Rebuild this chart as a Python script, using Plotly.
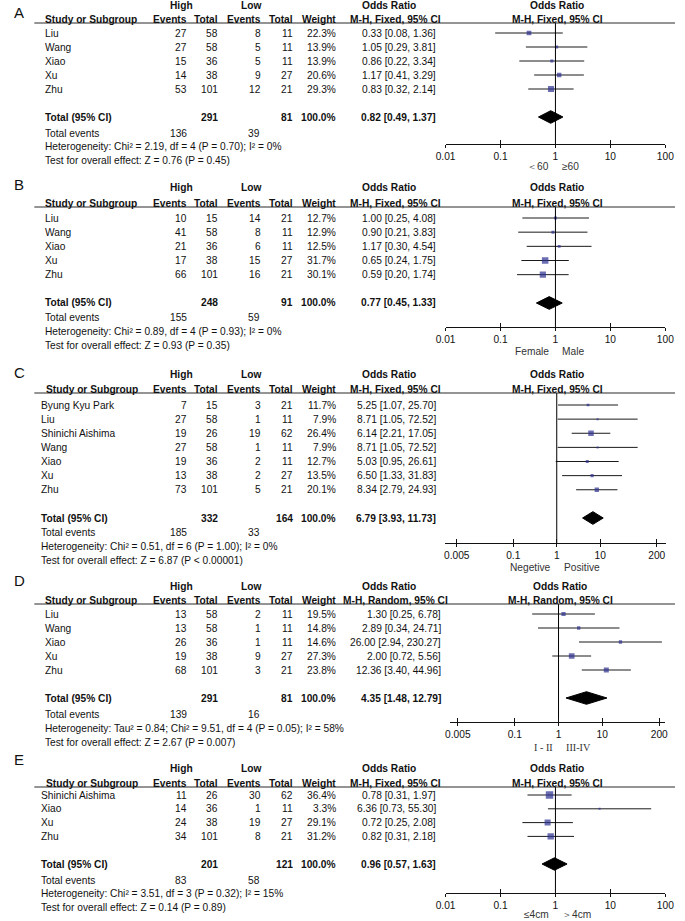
import math
import plotly.graph_objects as go

W, H = 685, 921
FONT = "Liberation Sans, Arial, Helvetica, sans-serif"
SERIF = "Liberation Serif, Times New Roman, serif"
FS = 10.2
TXT = "#111111"
BLUE = "#2e3092"

# ---------------- Panel A ----------------
a_study = ["Liu", "Wang", "Xiao", "Xu", "Zhu"]
a_high_events = [27, 27, 15, 14, 53]
a_high_total = [58, 58, 36, 38, 101]
a_low_events = [8, 5, 5, 9, 12]
a_low_total = [11, 11, 11, 27, 21]
a_weight = [22.3, 13.9, 13.9, 20.6, 29.3]
a_or = [0.33, 1.05, 0.86, 1.17, 0.83]
a_ci_low = [0.08, 0.29, 0.22, 0.41, 0.32]
a_ci_high = [1.36, 3.81, 3.34, 3.29, 2.14]
a_totals = [291, 81]
a_events = [136, 39]
a_pooled = [0.82, 0.49, 1.37]
a_het = "Heterogeneity: Chi² = 2.19, df = 4 (P = 0.70); I² = 0%"
a_test = "Test for overall effect: Z = 0.76 (P = 0.45)"
a_method = "M-H, Fixed, 95% CI"
a_dir = ["＜60", "≥60"]
a_ticks = [0.01, 0.1, 1, 10, 100]
a_tick_labels = ["0.01", "0.1", "1", "10", "100"]

# ---------------- Panel B ----------------
b_study = ["Liu", "Wang", "Xiao", "Xu", "Zhu"]
b_high_events = [10, 41, 21, 17, 66]
b_high_total = [15, 58, 36, 38, 101]
b_low_events = [14, 8, 6, 15, 16]
b_low_total = [21, 11, 11, 27, 21]
b_weight = [12.7, 12.9, 12.5, 31.7, 30.1]
b_or = [1.00, 0.90, 1.17, 0.65, 0.59]
b_ci_low = [0.25, 0.21, 0.30, 0.24, 0.20]
b_ci_high = [4.08, 3.83, 4.54, 1.75, 1.74]
b_totals = [248, 91]
b_events = [155, 59]
b_pooled = [0.77, 0.45, 1.33]
b_het = "Heterogeneity: Chi² = 0.89, df = 4 (P = 0.93); I² = 0%"
b_test = "Test for overall effect: Z = 0.93 (P = 0.35)"
b_method = "M-H, Fixed, 95% CI"
b_dir = ["Female", "Male"]
b_ticks = [0.01, 0.1, 1, 10, 100]
b_tick_labels = ["0.01", "0.1", "1", "10", "100"]

# ---------------- Panel C ----------------
c_study = ["Byung Kyu Park", "Liu", "Shinichi Aishima", "Wang", "Xiao", "Xu", "Zhu"]
c_high_events = [7, 27, 19, 27, 19, 13, 73]
c_high_total = [15, 58, 26, 58, 36, 38, 101]
c_low_events = [3, 1, 19, 1, 2, 2, 5]
c_low_total = [21, 11, 62, 11, 11, 27, 21]
c_weight = [11.7, 7.9, 26.4, 7.9, 12.7, 13.5, 20.1]
c_or = [5.25, 8.71, 6.14, 8.71, 5.03, 6.50, 8.34]
c_ci_low = [1.07, 1.05, 2.21, 1.05, 0.95, 1.33, 2.79]
c_ci_high = [25.70, 72.52, 17.05, 72.52, 26.61, 31.83, 24.93]
c_totals = [332, 164]
c_events = [185, 33]
c_pooled = [6.79, 3.93, 11.73]
c_het = "Heterogeneity: Chi² = 0.51, df = 6 (P = 1.00); I² = 0%"
c_test = "Test for overall effect: Z = 6.87 (P &lt; 0.00001)"
c_method = "M-H, Fixed, 95% CI"
c_dir = ["Negetive", "Positive"]
c_ticks = [0.005, 0.1, 1, 10, 200]
c_tick_labels = ["0.005", "0.1", "1", "10", "200"]

# ---------------- Panel D ----------------
d_study = ["Liu", "Wang", "Xiao", "Xu", "Zhu"]
d_high_events = [13, 13, 26, 19, 68]
d_high_total = [58, 58, 36, 38, 101]
d_low_events = [2, 1, 1, 9, 3]
d_low_total = [11, 11, 11, 27, 21]
d_weight = [19.5, 14.8, 14.6, 27.3, 23.8]
d_or = [1.30, 2.89, 26.00, 2.00, 12.36]
d_ci_low = [0.25, 0.34, 2.94, 0.72, 3.40]
d_ci_high = [6.78, 24.71, 230.27, 5.56, 44.96]
d_totals = [291, 81]
d_events = [139, 16]
d_pooled = [4.35, 1.48, 12.79]
d_het = "Heterogeneity: Tau² = 0.84; Chi² = 9.51, df = 4 (P = 0.05); I² = 58%"
d_test = "Test for overall effect: Z = 2.67 (P = 0.007)"
d_method = "M-H, Random, 95% CI"
d_dir = ["I - II", "III-IV"]
d_ticks = [0.005, 0.1, 1, 10, 200]
d_tick_labels = ["0.005", "0.1", "1", "10", "200"]

# ---------------- Panel E ----------------
e_study = ["Shinichi Aishima", "Xiao", "Xu", "Zhu"]
e_high_events = [11, 14, 24, 34]
e_high_total = [26, 36, 38, 101]
e_low_events = [30, 1, 19, 8]
e_low_total = [62, 11, 27, 21]
e_weight = [36.4, 3.3, 29.1, 31.2]
e_or = [0.78, 6.36, 0.72, 0.82]
e_ci_low = [0.31, 0.73, 0.25, 0.31]
e_ci_high = [1.97, 55.30, 2.08, 2.18]
e_totals = [201, 121]
e_events = [83, 58]
e_pooled = [0.96, 0.57, 1.63]
e_het = "Heterogeneity: Chi² = 3.51, df = 3 (P = 0.32); I² = 15%"
e_test = "Test for overall effect: Z = 0.14 (P = 0.89)"
e_method = "M-H, Fixed, 95% CI"
e_dir = ["≤4cm", "＞4cm"]
e_ticks = [0.01, 0.1, 1, 10, 100]
e_tick_labels = ["0.01", "0.1", "1", "10", "100"]

# ---------------- layout (pixel positions) ----------------
panels = [
    dict(letter="A", study=a_study, he=a_high_events, ht=a_high_total, le=a_low_events, lt=a_low_total,
         w=a_weight, orr=a_or, lo=a_ci_low, hi=a_ci_high, totals=a_totals, events=a_events, pooled=a_pooled,
         het=a_het, test=a_test, method=a_method, dirs=a_dir, ticks=a_ticks, ticklabels=a_tick_labels,
         L=dict(letter_y=12, high_y=5, header_y=19, line_y=23, first_y=33, total_y=117, tev_y=133,
                het_y=147, test_y=161, axis_y=144, dir_y=167, x0=448, x1=674, rng=[-2, 2],
                name_x=35, hdr_x=35, ci_r=439, rc=563, dfont=FONT)),
    dict(letter="B", study=b_study, he=b_high_events, ht=b_high_total, le=b_low_events, lt=b_low_total,
         w=b_weight, orr=b_or, lo=b_ci_low, hi=b_ci_high, totals=b_totals, events=b_events, pooled=b_pooled,
         het=b_het, test=b_test, method=b_method, dirs=b_dir, ticks=b_ticks, ticklabels=b_tick_labels,
         L=dict(letter_y=185, high_y=188, header_y=203, line_y=207, first_y=218, total_y=303, tev_y=318,
                het_y=332, test_y=346, axis_y=327, dir_y=352, x0=448, x1=674, rng=[-2, 2],
                name_x=35, hdr_x=35, ci_r=439, rc=563, dfont=FONT)),
    dict(letter="C", study=c_study, he=c_high_events, ht=c_high_total, le=c_low_events, lt=c_low_total,
         w=c_weight, orr=c_or, lo=c_ci_low, hi=c_ci_high, totals=c_totals, events=c_events, pooled=c_pooled,
         het=c_het, test=c_test, method=c_method, dirs=c_dir, ticks=c_ticks, ticklabels=c_tick_labels,
         L=dict(letter_y=373, high_y=375, header_y=390, line_y=393, first_y=405, total_y=518, tev_y=532,
                het_y=546, test_y=560, axis_y=543, dir_y=567, x0=447, x1=675, rng=[-2.58, 2.52],
                name_x=31, hdr_x=36, ci_r=439, rc=563, dfont=FONT)),
    dict(letter="D", study=d_study, he=d_high_events, ht=d_high_total, le=d_low_events, lt=d_low_total,
         w=d_weight, orr=d_or, lo=d_ci_low, hi=d_ci_high, totals=d_totals, events=d_events, pooled=d_pooled,
         het=d_het, test=d_test, method=d_method, dirs=d_dir, ticks=d_ticks, ticklabels=d_tick_labels,
         L=dict(letter_y=580, high_y=586, header_y=600, line_y=604, first_y=614, total_y=698, tev_y=714,
                het_y=728, test_y=742, axis_y=722, dir_y=747, x0=453, x1=674, rng=[-2.47, 2.44],
                name_x=35, hdr_x=35, ci_r=444, rc=566, dfont=SERIF)),
    dict(letter="E", study=e_study, he=e_high_events, ht=e_high_total, le=e_low_events, lt=e_low_total,
         w=e_weight, orr=e_or, lo=e_ci_low, hi=e_ci_high, totals=e_totals, events=e_events, pooled=e_pooled,
         het=e_het, test=e_test, method=e_method, dirs=e_dir, ticks=e_ticks, ticklabels=e_tick_labels,
         L=dict(letter_y=759, high_y=768, header_y=783, line_y=787, first_y=795, total_y=864, tev_y=880,
                het_y=893, test_y=907, axis_y=893, dir_y=914, x0=448, x1=674, rng=[-2, 2],
                name_x=31, hdr_x=36, ci_r=439, rc=563, dfont=FONT)),
]

COL_HE, COL_HT, COL_LE, COL_LT, COL_W = 183, 215, 259, 292, 336
HIGH_C, LOW_C, OR_C, MH_C = 176, 248, 390, 397

fig = go.Figure()
ann = []
shapes = []


def px(x):
    return x / W


def py(y):
    return 1 - y / H


def text(x, y, s, anchor="left", bold=False, size=FS, family=FONT, color=TXT):
    ann.append(dict(x=px(x), y=py(y), xref="paper", yref="paper",
                    text=("<b>%s</b>" % s) if bold else s, showarrow=False,
                    xanchor=anchor, yanchor="middle", borderpad=0,
                    font=dict(family=family, size=size, color=color)))


NP = len(panels)
for i, p in enumerate(panels, start=1):
    L = p["L"]
    n = len(p["study"])
    step = (L["total_y"] - L["first_y"]) / (n + 1)

    def row_px(r):
        return L["first_y"] + r * step

    # ---- table text ----
    text(3, L["letter_y"], p["letter"], size=15)
    text(HIGH_C, L["high_y"], "High", "center", True)
    text(LOW_C, L["high_y"], "Low", "center", True)
    text(OR_C, L["high_y"], "Odds Ratio", "center", True)
    text(L["rc"], L["high_y"], "Odds Ratio", "center", True)
    text(L["hdr_x"], L["header_y"], "Study or Subgroup", "left", True)
    text(COL_HE, L["header_y"], "Events", "right", True)
    text(COL_HT, L["header_y"], "Total", "right", True)
    text(COL_LE, L["header_y"], "Events", "right", True)
    text(COL_LT, L["header_y"], "Total", "right", True)
    text(COL_W, L["header_y"], "Weight", "right", True)
    text(MH_C, L["header_y"], p["method"], "center", True)
    text(L["rc"], L["header_y"], p["method"], "center", True)
    shapes.append(dict(type="line", xref="paper", yref="paper", x0=px(25), x1=px(684),
                       y0=py(L["line_y"]), y1=py(L["line_y"]), line=dict(color="#2a2a2a", width=1.2)))

    for r in range(n):
        y = row_px(r)
        text(L["name_x"], y, p["study"][r])
        text(COL_HE, y, str(p["he"][r]), "right")
        text(COL_HT, y, str(p["ht"][r]), "right")
        text(COL_LE, y, str(p["le"][r]), "right")
        text(COL_LT, y, str(p["lt"][r]), "right")
        text(COL_W, y, "%.1f%%" % p["w"][r], "right")
        text(L["ci_r"], y, "%.2f [%.2f, %.2f]" % (p["orr"][r], p["lo"][r], p["hi"][r]), "right")

    ty = row_px(n + 1)
    text(L["name_x"], ty, "Total (95% CI)", "left", True)
    text(COL_HT, ty, str(p["totals"][0]), "right", True)
    text(COL_LT, ty, str(p["totals"][1]), "right", True)
    text(COL_W, ty, "100.0%", "right", True)
    text(L["ci_r"], ty, "%.2f [%.2f, %.2f]" % tuple(p["pooled"]), "right", True)
    text(L["name_x"], L["tev_y"], "Total events")
    text(COL_HE, L["tev_y"], str(p["events"][0]), "right")
    text(COL_LE - 1, L["tev_y"], str(p["events"][1]), "right")
    text(L["name_x"], L["het_y"], p["het"])
    text(L["name_x"], L["test_y"], p["test"])

    # ---- forest plot axes ----
    xa = "x" if i == 1 else "x%d" % i
    ya = "y" if i == 1 else "y%d" % i
    xo = "x%d" % (i + NP)
    y_bottom = (L["axis_y"] - L["first_y"]) / step
    y_top = (L["line_y"] - L["first_y"]) / step

    common_x = dict(type="log", range=L["rng"], domain=[px(L["x0"]), px(L["x1"])],
                    showgrid=False, zeroline=False, fixedrange=True)
    fig.layout["xaxis" if i == 1 else "xaxis%d" % i] = dict(
        **common_x, anchor=ya, showline=True, linecolor="#111", linewidth=1,
        tickmode="array", tickvals=p["ticks"], ticktext=p["ticklabels"],
        ticks="outside", ticklen=3, tickwidth=1, tickcolor="#111",
        tickfont=dict(family=FONT, size=FS, color=TXT))
    fig.layout["xaxis%d" % (i + NP)] = dict(
        **common_x, anchor=ya, overlaying=xa, showline=False,
        tickmode="array", tickvals=p["ticks"], ticks="inside", ticklen=4, tickwidth=1,
        tickcolor="#111", showticklabels=False)
    fig.layout["yaxis" if i == 1 else "yaxis%d" % i] = dict(
        domain=[py(L["axis_y"]), py(L["line_y"])], range=[y_bottom, y_top],
        anchor=xa, visible=False, fixedrange=True)

    rows = list(range(n))
    # CI lines
    lx, ly = [], []
    for r in rows:
        lx += [p["lo"][r], p["hi"][r], None]
        ly += [r, r, None]
    fig.add_trace(go.Scatter(x=lx, y=ly, mode="lines", line=dict(color="#1a1a1a", width=1),
                             xaxis=xa, yaxis=ya, hoverinfo="skip", showlegend=False, cliponaxis=True))
    # squares sized by weight
    fig.add_trace(go.Scatter(x=p["orr"], y=rows, mode="markers",
                             marker=dict(symbol="square", color=BLUE,
                                         size=[max(2.0, 0.5 + 0.19 * w) for w in p["w"]],
                                         line=dict(width=0)),
                             xaxis=xa, yaxis=ya, showlegend=False, hoverinfo="skip"))
    # diamond
    t = n + 1
    hh = 0.45
    po, plo, phi = p["pooled"]
    fig.add_trace(go.Scatter(x=[plo, po, phi, po, plo], y=[t, t - hh, t, t + hh, t], mode="lines",
                             fill="toself", fillcolor="black", line=dict(color="black", width=1),
                             xaxis=xa, yaxis=ya, showlegend=False, hoverinfo="skip"))
    # null-effect line (on overlay axis so it is drawn)
    fig.add_trace(go.Scatter(x=[1, 1], y=[y_top, y_bottom], mode="lines",
                             line=dict(color="black", width=1), xaxis=xo, yaxis=ya,
                             showlegend=False, hoverinfo="skip"))

    # direction labels around OR = 1
    ann.append(dict(x=math.log10(1), y=py(L["dir_y"]), xref=xa, yref="paper", text=p["dirs"][0],
                    showarrow=False, xanchor="right", yanchor="middle", xshift=-4,
                    font=dict(family=L["dfont"], size=FS, color="#333333")))
    ann.append(dict(x=math.log10(1), y=py(L["dir_y"]), xref=xa, yref="paper", text=p["dirs"][1],
                    showarrow=False, xanchor="left", yanchor="middle", xshift=5,
                    font=dict(family=L["dfont"], size=FS, color="#333333")))

fig.update_layout(width=W, height=H, margin=dict(l=0, r=0, t=0, b=0),
                  paper_bgcolor="white", plot_bgcolor="rgba(0,0,0,0)",
                  annotations=ann, shapes=shapes, showlegend=False, hovermode=False,
                  font=dict(family=FONT, size=FS, color=TXT))

fig.write_html("out.html", config={"displayModeBar": False, "staticPlot": True},
               post_script="document.body.style.margin='0';document.body.style.overflow='hidden';")
